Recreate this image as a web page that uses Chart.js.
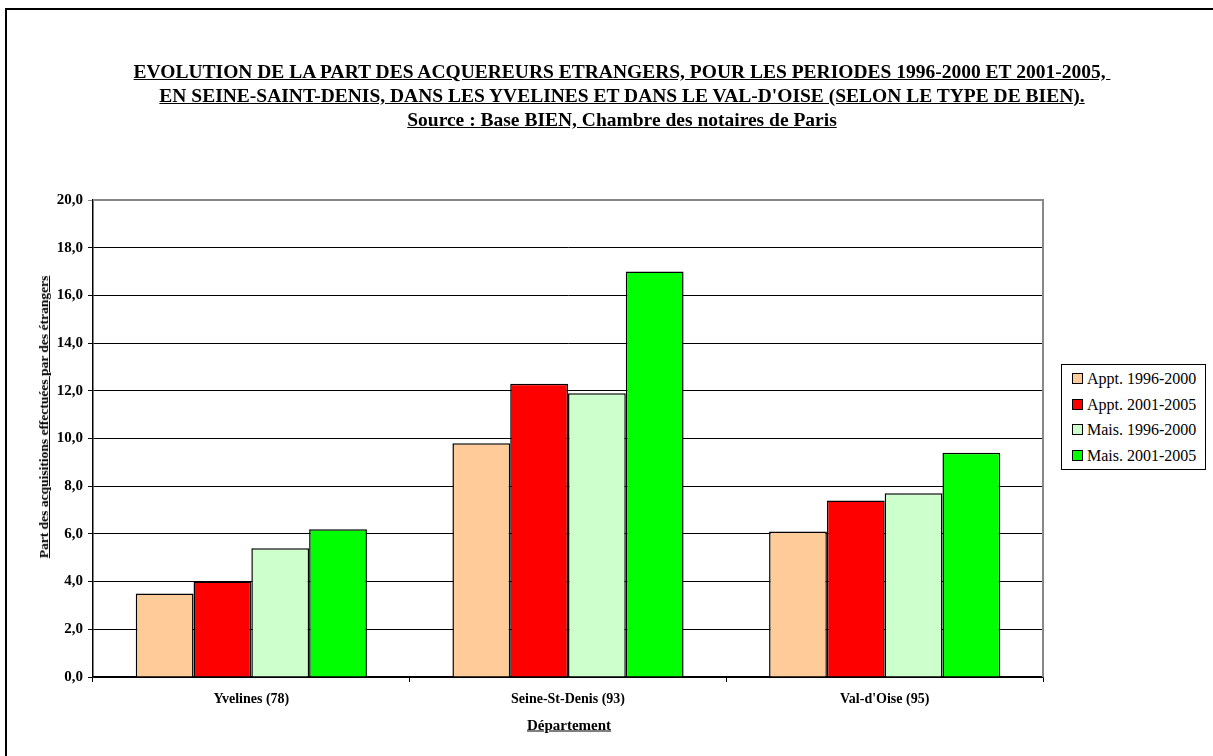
<!DOCTYPE html>
<html>
<head>
<meta charset="utf-8">
<script src="https://cdn.jsdelivr.net/npm/chart.js@4/dist/chart.umd.min.js"></script>
<style>
  html, body { margin: 0; padding: 0; background: #fff; overflow: hidden; }
  body { width: 1213px; height: 756px; position: relative; font-family: "Liberation Serif", "Times New Roman", serif; }
  #frame { position: absolute; left: 5px; top: 8px; width: 1400px; height: 1000px; border: 2px solid #000; }
  #chart-wrap { position: absolute; left: 0; top: 0; width: 1213px; height: 756px; }
  .title { position: absolute; left: 0; width: 1244px; text-align: center; font-weight: bold; font-size: 19.5px; line-height: 24px; text-decoration: underline; white-space: pre; }
  #y-title { position: absolute; left: 44px; top: 417px; transform: translate(-50%, -50%) rotate(-90deg); font-weight: bold; font-size: 13.5px; text-decoration: underline; white-space: nowrap; }
  #x-title { position: absolute; left: 569px; top: 725px; transform: translate(-50%, -50%); font-weight: bold; font-size: 15px; text-decoration: underline; white-space: nowrap; }
  #legend { position: absolute; left: 1061px; top: 364px; width: 143px; height: 104px; border: 1px solid #000; background: #fff; }
  .leg-item { position: absolute; left: 10px; font-size: 16px; white-space: nowrap; line-height: 18px; }
  .leg-item span { display: inline-block; width: 9px; height: 9px; border: 1px solid #000; margin-right: 4px; vertical-align: 0px; }
</style>
</head>
<body>
<div id="frame"></div>
<div id="chart-wrap"><canvas id="chart" width="1213" height="756"></canvas></div>
<div class="title" style="top: 60px;">EVOLUTION DE LA PART DES ACQUEREURS ETRANGERS, POUR LES PERIODES 1996-2000 ET 2001-2005, </div>
<div class="title" style="top: 84px;">EN SEINE-SAINT-DENIS, DANS LES YVELINES ET DANS LE VAL-D'OISE (SELON LE TYPE DE BIEN).</div>
<div class="title" style="top: 108px;">Source : Base BIEN, Chambre des notaires de Paris</div>
<div id="y-title">Part des acquisitions effectuées par des étrangers</div>
<div id="x-title">Département</div>
<div id="legend"></div>
<script>
// Departments and series (share of foreign buyers, %)
const departements = ['Yvelines (78)', 'Seine-St-Denis (93)', "Val-d'Oise (95)"];
const seriesLabels = ['Appt. 1996-2000', 'Appt. 2001-2005', 'Mais. 1996-2000', 'Mais. 2001-2005'];
const appt9600 = [3.5, 9.8, 6.1];
const appt0105 = [4.0, 12.3, 7.4];
const mais9600 = [5.4, 11.9, 7.7];
const mais0105 = [6.2, 17.0, 9.4];
const seriesColors = ['#FFCC99', '#FF0000', '#CCFFCC', '#00FF00'];
const yTicks = [0, 2, 4, 6, 8, 10, 12, 14, 16, 18, 20];

const seriesData = [appt9600, appt0105, mais9600, mais0105];

// HTML legend
const legendEl = document.getElementById('legend');
seriesLabels.forEach((label, i) => {
    const item = document.createElement('div');
    item.className = 'leg-item';
    item.style.top = (5 + i * 25.7) + 'px';
    item.innerHTML = `<span style="background:${seriesColors[i]}"></span>${label}`;
    legendEl.appendChild(item);
});

// Grey border on top/right of the plot area
const plotBorder = {
    id: 'plotBorder',
    beforeDatasetsDraw(chart) {
        const { ctx, chartArea: a } = chart;
        ctx.save();
        ctx.strokeStyle = '#888';
        ctx.lineWidth = 2;
        ctx.beginPath();
        ctx.moveTo(a.left, a.top);
        ctx.lineTo(a.right, a.top);
        ctx.lineTo(a.right, a.bottom);
        ctx.stroke();
        ctx.restore();
    }
};

Chart.defaults.font.family = '"Liberation Serif", "Times New Roman", serif';
Chart.defaults.color = '#000';

const ctx = document.getElementById('chart').getContext('2d');
new Chart(ctx, {
    type: 'bar',
    data: {
        labels: departements,
        datasets: seriesLabels.map((label, i) => ({
            label: label,
            data: seriesData[i],
            backgroundColor: seriesColors[i],
            borderColor: '#000',
            borderWidth: 1.5,
            categoryPercentage: 0.73,
            barPercentage: 1.0
        }))
    },
    options: {
        responsive: false,
        animation: false,
        layout: { padding: { left: 10, top: 200, right: 170, bottom: 0 } },
        plugins: {
            legend: { display: false },
            tooltip: { enabled: false }
        },
        scales: {
            x: {
                grid: { drawOnChartArea: false, drawTicks: true, tickLength: 5, color: '#000', offset: true },
                border: { color: '#000', width: 1.5 },
                ticks: { font: { size: 14, weight: 'bold' }, padding: 9, color: '#000' },
                afterFit: scale => { scale.height = 79; }
            },
            y: {
                min: 0,
                max: 20,
                afterBuildTicks: scale => { scale.ticks = yTicks.map(v => ({ value: v })); },
                grid: {
                    color: c => (c.tick && c.tick.value === 20) ? '#888' : '#000',
                    lineWidth: 1,
                    tickLength: 5
                },
                border: { color: '#000', width: 1.5 },
                ticks: {
                    font: { size: 15, weight: 'bold' },
                    padding: 5,
                    color: '#000',
                    callback: v => v.toFixed(1).replace('.', ',')
                },
                afterFit: scale => { scale.width = 83; }
            }
        }
    },
    plugins: [plotBorder]
});
</script>
</body>
</html>
